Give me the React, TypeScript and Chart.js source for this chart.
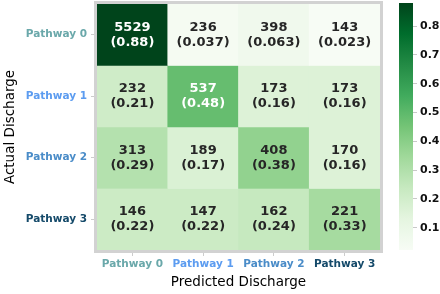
import React, { useEffect, useRef } from "react";
import { Chart, registerables } from "chart.js";

Chart.register(...registerables);

const predictedLabels = ["Pathway 0", "Pathway 1", "Pathway 2", "Pathway 3"];
const actualLabels = ["Pathway 0", "Pathway 1", "Pathway 2", "Pathway 3"];
const labelColors = ["#6aa8aa", "#5c9cf0", "#4a8cc8", "#154a6a"];

const row0Counts = [5529, 236, 398, 143];
const row1Counts = [232, 537, 173, 173];
const row2Counts = [313, 189, 408, 170];
const row3Counts = [146, 147, 162, 221];

const row0Fractions = [0.88, 0.037, 0.063, 0.023];
const row1Fractions = [0.21, 0.48, 0.16, 0.16];
const row2Fractions = [0.29, 0.17, 0.38, 0.16];
const row3Fractions = [0.22, 0.22, 0.24, 0.33];

const colorbarTicks = [0.1, 0.2, 0.3, 0.4, 0.5, 0.6, 0.7, 0.8];

const counts = [row0Counts, row1Counts, row2Counts, row3Counts];
const fractions = [row0Fractions, row1Fractions, row2Fractions, row3Fractions];

const FONT = "'DejaVu Sans', sans-serif";

const GREENS = [
  [247, 252, 245],
  [229, 245, 224],
  [199, 233, 192],
  [161, 217, 155],
  [116, 196, 118],
  [65, 171, 93],
  [35, 139, 69],
  [0, 109, 44],
  [0, 68, 27],
];

function greens(t: number): string {
  const tt = Math.max(0, Math.min(1, t)) * (GREENS.length - 1);
  const i = Math.min(GREENS.length - 2, Math.floor(tt));
  const f = tt - i;
  const a = GREENS[i];
  const b = GREENS[i + 1];
  const c = a.map((v, k) => Math.round(v + (b[k] - v) * f));
  return `rgb(${c[0]},${c[1]},${c[2]})`;
}

const allFractions = fractions.flat();
const vmin = Math.min(...allFractions);
const vmax = Math.max(...allFractions);
const norm = (v: number) => (v - vmin) / (vmax - vmin);

function fmt(v: number): string {
  return Number(v.toPrecision(2)).toString();
}

const cellTextPlugin = {
  id: "cellText",
  afterDatasetsDraw(chart: any) {
    const { ctx, scales } = chart;
    const xs = scales.x;
    const ys = scales.y;
    ctx.save();
    ctx.font = `bold 13px ${FONT}`;
    ctx.textAlign = "center";
    ctx.textBaseline = "middle";
    for (let r = 0; r < counts.length; r++) {
      for (let c = 0; c < counts[r].length; c++) {
        const x = xs.getPixelForValue(c);
        const y = ys.getPixelForValue(r + 0.5);
        ctx.fillStyle = norm(fractions[r][c]) > 0.5 ? "#ffffff" : "#262626";
        ctx.fillText(String(counts[r][c]), x, y - 7.5);
        ctx.fillText(`(${fmt(fractions[r][c])})`, x, y + 7.5);
      }
    }
    ctx.restore();
  },
  afterDraw(chart: any) {
    const { ctx, chartArea } = chart;
    ctx.save();
    ctx.strokeStyle = "#d2d2d2";
    ctx.lineWidth = 3;
    ctx.strokeRect(
      chartArea.left - 1.5,
      chartArea.top - 1.5,
      chartArea.right - chartArea.left + 3,
      chartArea.bottom - chartArea.top + 3
    );
    ctx.restore();
  },
};

const noPad = (s: any) => {
  s.paddingTop = 0;
  s.paddingBottom = 0;
  s.paddingLeft = 0;
  s.paddingRight = 0;
};

export default function App() {
  const mainRef = useRef<HTMLCanvasElement>(null);
  const cbRef = useRef<HTMLCanvasElement>(null);

  useEffect(() => {
    const main = new Chart(mainRef.current!, {
      type: "bar",
      data: {
        labels: predictedLabels,
        datasets: actualLabels.map((name, r) => ({
          label: name,
          data: predictedLabels.map(() => [r, r + 1]),
          backgroundColor: fractions[r].map((v) => greens(norm(v))),
          borderWidth: 0,
          barPercentage: 1,
          categoryPercentage: 1,
          grouped: false,
        })),
      } as any,
      options: {
        responsive: false,
        animation: false,
        events: [],
        layout: { padding: { left: 0, top: 4, right: 10, bottom: 0 } },
        plugins: { legend: { display: false }, tooltip: { enabled: false } },
        scales: {
          x: {
            type: "category",
            offset: true,
            grid: {
              offset: false,
              drawOnChartArea: false,
              drawTicks: true,
              tickLength: 6,
              color: "#cccccc",
            },
            border: { display: false },
            ticks: {
              color: (c: any) => labelColors[c.index],
              font: { family: FONT, size: 10.5, weight: "bold" },
              padding: 2,
              maxRotation: 0,
              autoSkip: false,
            },
            title: {
              display: true,
              text: "Predicted Discharge",
              color: "#000000",
              font: { family: FONT, size: 13.5 },
              padding: { top: 0, bottom: 3 },
            },
            afterFit: (s: any) => {
              s.height = 44;
              noPad(s);
            },
          },
          y: {
            type: "linear",
            min: 0,
            max: 4,
            reverse: true,
            afterBuildTicks: (s: any) => {
              s.ticks = actualLabels.map((_, i) => ({ value: i + 0.5 }));
            },
            grid: {
              drawOnChartArea: false,
              drawTicks: true,
              tickLength: 6,
              color: "#cccccc",
            },
            border: { display: false },
            ticks: {
              callback: (_v: any, i: number) => actualLabels[i],
              color: (c: any) => labelColors[c.index],
              font: { family: FONT, size: 10.5, weight: "bold" },
              padding: 4,
              autoSkip: false,
            },
            title: {
              display: true,
              text: "Actual Discharge",
              color: "#000000",
              font: { family: FONT, size: 13.5 },
              padding: { top: 2, bottom: 0 },
            },
            afterFit: (s: any) => {
              s.width = 97;
              noPad(s);
            },
          },
        },
      } as any,
      plugins: [cellTextPlugin],
    });

    const cb = new Chart(cbRef.current!, {
      type: "bar",
      data: {
        labels: [""],
        datasets: [
          {
            data: [[vmin, vmax]],
            backgroundColor: (ctx: any) => {
              const chart = ctx.chart;
              const area = chart.chartArea;
              if (!area) return "#74c476";
              const g = chart.ctx.createLinearGradient(0, area.top, 0, area.bottom);
              for (let i = 0; i <= 16; i++) {
                const t = i / 16;
                g.addColorStop(t, greens(1 - t));
              }
              return g;
            },
            borderWidth: 0,
            barPercentage: 1,
            categoryPercentage: 1,
          },
        ],
      } as any,
      options: {
        responsive: false,
        animation: false,
        events: [],
        layout: { padding: { left: 9, top: 3, right: 0, bottom: 44 } },
        plugins: { legend: { display: false }, tooltip: { enabled: false } },
        scales: {
          x: { display: false },
          y: {
            position: "right",
            min: vmin,
            max: vmax,
            afterBuildTicks: (s: any) => {
              s.ticks = colorbarTicks.map((v) => ({ value: v }));
            },
            grid: {
              drawOnChartArea: false,
              drawTicks: true,
              tickLength: 4,
              color: "#c8c8c8",
            },
            border: { display: false },
            ticks: {
              callback: (v: any) => Number(v).toFixed(1),
              color: "#111111",
              font: { family: FONT, size: 11, weight: "bold" },
              padding: 3,
              autoSkip: false,
            },
            afterFit: (s: any) => {
              s.width = 27;
              noPad(s);
            },
          },
        },
      } as any,
    });

    return () => {
      main.destroy();
      cb.destroy();
    };
  }, []);

  return (
    <div style={{ position: "absolute", left: 0, top: 0, width: 440, height: 294, background: "#ffffff" }}>
      <canvas ref={mainRef} width={390} height={294} style={{ position: "absolute", left: 0, top: 0 }} />
      <canvas ref={cbRef} width={50} height={294} style={{ position: "absolute", left: 390, top: 0 }} />
    </div>
  );
}
